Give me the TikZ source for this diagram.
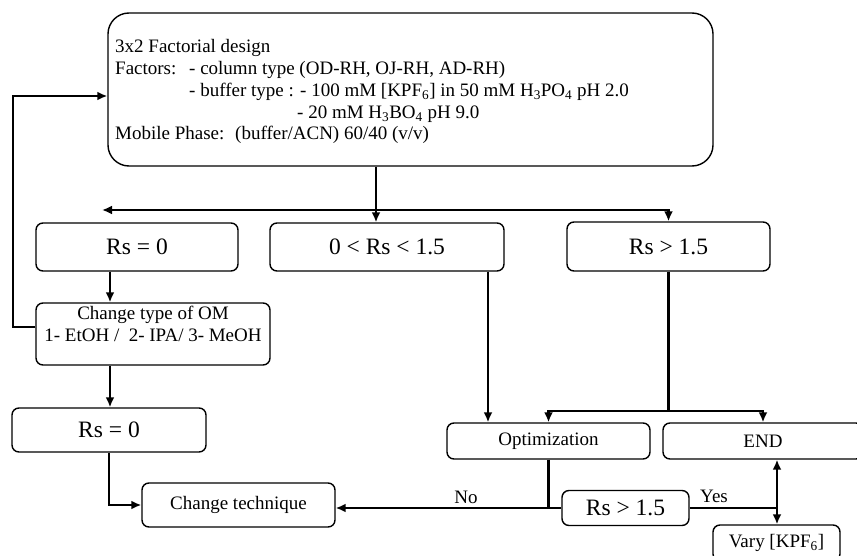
\documentclass[tikz,border=0pt]{standalone}
\usepackage{fontspec}
\setmainfont{Liberation Serif}
\usetikzlibrary{arrows.meta}

\begin{document}
\begin{tikzpicture}[x=1pt,y=-1pt,
  box/.style={draw, line width=1.4pt, rounded corners=7pt, inner sep=0pt,
    font=\fontsize{19}{22}\selectfont, align=center},
  bigtext/.style={font=\fontsize{23.5}{26}\selectfont},
  txt/.style={inner sep=0pt, font=\fontsize{19}{22}\selectfont},
  wire/.style={line width=2.6pt},
  flow/.style={line width=2.6pt, -{Latex[length=10pt,width=9pt]}},
]
\useasboundingbox (0,0) rectangle (857,556);
\clip (0,0) rectangle (857,556);

% ---- design box ----
\node[box, rounded corners=21pt, minimum width=605pt, minimum height=153pt]
  (design) at (410.5,89.5) {};
\node[txt, anchor=base west] (l1) at (115,53) {3x2 Factorial design};
\node[txt, anchor=base west] (l2a) at (115,75) {Factors:};
\node[txt, anchor=base west] (l2b) at (189,75) {- column type (OD-RH, OJ-RH, AD-RH)};
\node[txt, anchor=base west] (l3) at (189,97)
  {- buffer type : - 100 mM [KPF\textsubscript{6}] in 50 mM H\textsubscript{3}PO\textsubscript{4} pH 2.0};
\node[txt, anchor=base west] (l4) at (297,119)
  {- 20 mM H\textsubscript{3}BO\textsubscript{4} pH 9.0};
\node[txt, anchor=base west] (l5a) at (115,140) {Mobile Phase:};
\node[txt, anchor=base west] (l5b) at (235,140) {(buffer/ACN) 60/40 (v/v)};

% ---- first decision row ----
\node[box, bigtext, minimum width=202pt, minimum height=48pt] (rs0) at (137,247) {Rs = 0};
\node[box, bigtext, minimum width=234pt, minimum height=48pt] (mid) at (387,247) {0 < Rs < 1.5};
\node[box, bigtext, minimum width=203pt, minimum height=49pt] (rsg) at (668.5,246.5) {Rs > 1.5};

% ---- left branch ----
\node[box, minimum width=234pt, minimum height=62pt] (cto) at (153,334) {};
\node[txt, align=center] (ctotext) at (153,324) {Change type of OM\\1- EtOH /\ \ 2- IPA/ 3- MeOH};
\node[box, bigtext, minimum width=194pt, minimum height=44pt] (rs0b) at (109,430) {Rs = 0};
\node[box, minimum width=193pt, minimum height=44pt] (tech) at (238.5,505) {Change technique};

% ---- right branch ----
\node[box, minimum width=203pt, minimum height=36pt] (opt) at (548.5,441) {Optimization};
\node[box, minimum width=200pt, minimum height=36pt] (endb) at (763,441) {END};
\node[box, bigtext, minimum width=127pt, minimum height=35pt] (rsg2) at (625.5,508) {Rs > 1.5};
\node[box, minimum width=127pt, minimum height=36pt] (vary) at (776.5,543) {Vary [KPF\textsubscript{6}]};

% ---- connectors ----
\coordinate (split) at (376,210);
\coordinate (leftend) at (102,210);
\draw[wire] (design.south -| split) -- (split);
\draw[flow] (split) -- (leftend);
\draw[flow] (split) -- (split |- mid.north);
\draw[flow] (split) -| (rsg.north);

\coordinate (rsgsplit) at (668.5,411);
\draw[wire] (rsg.south) -- (rsgsplit);
\draw[flow] (rsgsplit) -| (opt.north);
\draw[flow] (rsgsplit) -| (endb.north);

\coordinate (midout) at ([xshift=101pt]mid.south);
\draw[flow] (midout) -- (midout |- opt.north);

\coordinate (rs0out) at ([xshift=-27pt]rs0.south);
\draw[flow] (rs0out) -- (rs0out |- cto.north);

\coordinate (ctoout) at ([xshift=-43pt]cto.south);
\draw[flow] (ctoout) -- (ctoout |- rs0b.north);

\coordinate (loopout) at ([yshift=7pt]cto.west);
\coordinate (loopin) at ([yshift=-6.5pt]design.west);
\coordinate (loopcorner) at (13,96);
\draw[flow] (loopout) -| (loopcorner) -- (loopin);

\draw[flow] (rs0b.south) |- (tech.west);

\draw[wire] (opt.south) -- (opt.south |- rsg2.west);
\draw[flow] (rsg2.west) -- (rsg2.west -| tech.east);
\node[txt] (nolabel) at (466,497) {No};

\coordinate (yesjoin) at (777,508);
\draw[wire] (rsg2.east) -- (yesjoin);
\node[txt] (yeslabel) at (714,496) {Yes};
\draw[flow] (yesjoin) -- (yesjoin |- endb.south);
\draw[flow] (yesjoin) -- (yesjoin |- vary.north);
\end{tikzpicture}
\end{document}
